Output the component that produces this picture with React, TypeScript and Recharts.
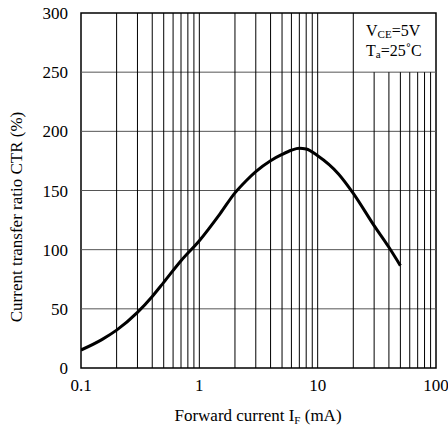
import React from 'react';
import { LineChart, Line, XAxis, YAxis, ReferenceLine, ReferenceArea, Label } from 'recharts';

const forwardCurrent = [0.1, 0.15, 0.2, 0.3, 0.4, 0.5, 0.7, 1, 1.5, 2, 2.5, 3, 4, 5, 6, 7, 8, 10, 15, 20, 30, 40, 50];
const ctrValues = [15.2, 24, 32, 47, 60.5, 72.4, 90.7, 107.6, 130.5, 148, 158.5, 166, 175.2, 180.5, 184, 185.6, 185, 179.4, 164, 147.6, 120.3, 102, 86.5];
const xTicks = [0.1, 1, 10, 100];
const yTicks = [0, 50, 100, 150, 200, 250, 300];
const gridX = [0.2, 0.3, 0.4, 0.5, 0.6, 0.7, 0.8, 0.9, 1, 2, 3, 4, 5, 6, 7, 8, 9, 10, 20, 30, 40, 50, 60, 70, 80, 90];
const gridY = [50, 100, 150, 200, 250];

const data = forwardCurrent.map((x, i) => ({ x, ctr: ctrValues[i] }));

const FONT = 'Liberation Serif';

export default function App() {
  return (
    <div style={{ position: 'absolute', left: 0, top: 0, background: '#fff' }}>
      <LineChart width={448} height={425} data={data} margin={{ top: 13, right: 12, bottom: 0, left: 0 }}>
        <XAxis
          dataKey="x"
          type="number"
          scale="log"
          domain={[0.1, 100]}
          ticks={xTicks}
          allowDataOverflow
          axisLine={false}
          tickLine={false}
          height={57}
          tick={{ fill: '#000', fontSize: 17, fontFamily: FONT }}
          tickFormatter={(v: number) => String(v)}
          tickMargin={5}
          interval={0}
        >
          <Label
            content={() => (
              <text x={258} y={421} textAnchor="middle" fontFamily={FONT} fontSize={17} fill="#000">
                Forward current I<tspan fontSize={11} dy={3}>F</tspan>
                <tspan dy={-3}> (mA)</tspan>
              </text>
            )}
          />
        </XAxis>
        <YAxis
          type="number"
          domain={[0, 300]}
          ticks={yTicks}
          width={81}
          axisLine={false}
          tickLine={false}
          tick={{ fill: '#000', fontSize: 17, fontFamily: FONT }}
          tickMargin={7}
          interval={0}
        >
          <Label
            content={() => (
              <text
                x={22}
                y={217}
                transform="rotate(-90 22 217)"
                textAnchor="middle"
                fontFamily={FONT}
                fontSize={17}
                fill="#000"
              >
                Current transfer ratio CTR (%)
              </text>
            )}
          />
        </YAxis>
        {gridY.map((y) => (
          <ReferenceLine key={'h' + y} y={y} stroke="#555" strokeWidth={1} />
        ))}
        {gridX.map((x) => (
          <ReferenceLine
            key={'v' + x}
            segment={[{ x, y: 0 }, { x, y: x > 20 ? 250 : 300 }]}
            stroke="#000"
            strokeWidth={1}
          />
        ))}
        <ReferenceArea
          x1={0.1}
          x2={100}
          y1={0}
          y2={300}
          fill="none"
          stroke="#000"
          strokeWidth={1.5}
          ifOverflow="visible"
        />
        <ReferenceArea
          x1={20}
          x2={100}
          y1={250}
          y2={300}
          fill="none"
          stroke="none"
          ifOverflow="visible"
          label={() => (
            <text fontFamily={FONT} fontSize={16} fill="#000">
              <tspan x={366} y={36}>V</tspan>
              <tspan fontSize={11} dy={2}>CE</tspan>
              <tspan dy={-2}>=5V</tspan>
              <tspan x={366} y={56}>T</tspan>
              <tspan fontSize={11} dy={2}>a</tspan>
              <tspan dy={-2}>=25˚C</tspan>
            </text>
          )}
        />
        <Line
          type="monotone"
          dataKey="ctr"
          stroke="#000"
          strokeWidth={3}
          dot={false}
          isAnimationActive={false}
        />
      </LineChart>
    </div>
  );
}
